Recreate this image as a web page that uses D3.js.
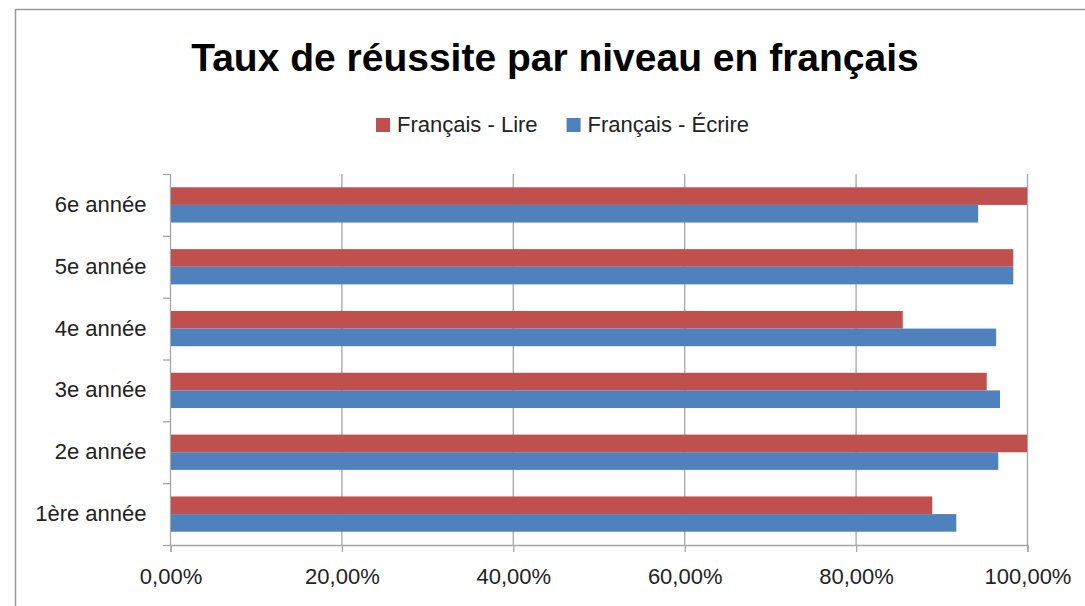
<!DOCTYPE html>
<html>
<head>
<meta charset="utf-8">
<script src="https://cdn.jsdelivr.net/npm/d3@7"></script>
<style>
  body { margin: 0; background: #fff; }
  svg { display: block; font-family: "Liberation Sans", Arial, sans-serif; }
</style>
</head>
<body>
<svg id="chart" width="1085" height="606"></svg>
<script>
// Data
const categories = ['1ère année', '2e année', '3e année', '4e année', '5e année', '6e année'];
const seriesNames = ['Français - Lire', 'Français - Écrire'];
const lireValues = [88.95, 100, 95.3, 85.5, 98.4, 100];
const ecrireValues = [91.75, 96.65, 96.85, 96.4, 98.4, 94.3];
const xTicks = [0, 20, 40, 60, 80, 100];
const colors = ['#C0504D', '#4F81BD'];

const svg = d3.select('#chart');

// Layout
const plot = { left: 170, right: 1027, top: 174, bottom: 545 };
const gridColor = '#a6a6a6';

// Chart area border
svg.append('rect')
  .attr('x', 15.5)
  .attr('y', 9.5)
  .attr('width', 1100)
  .attr('height', 620)
  .attr('fill', '#fff')
  .attr('stroke', '#9a9a9a')
  .attr('stroke-width', 1.5);

// Title
svg.append('text')
  .attr('x', 555)
  .attr('y', 71)
  .attr('text-anchor', 'middle')
  .style('font-size', '39px')
  .style('font-weight', 'bold')
  .attr('fill', '#000')
  .text('Taux de réussite par niveau en français');

// Scales
const x = d3.scaleLinear()
  .domain([0, 100])
  .range([plot.left, plot.right]);

const p = 0.43;
const y0 = d3.scaleBand()
  .domain(categories.slice().reverse())
  .range([plot.top, plot.bottom])
  .paddingInner(p)
  .paddingOuter(p / 2);

const y1 = d3.scaleBand()
  .domain(seriesNames)
  .range([0, y0.bandwidth()]);

// Vertical grid lines
svg.append('g')
  .selectAll('line')
  .data(xTicks.slice(1))
  .join('line')
  .attr('x1', d => x(d) + 0.5)
  .attr('x2', d => x(d) + 0.5)
  .attr('y1', plot.top)
  .attr('y2', plot.bottom)
  .attr('stroke', gridColor)
  .attr('stroke-width', 1.3);

// X axis
const xAxis = d3.axisBottom(x)
  .tickValues(xTicks)
  .tickSize(7)
  .tickPadding(16)
  .tickFormat(d => d3.format('.2f')(d).replace('.', ',') + '%');

const xg = svg.append('g')
  .attr('transform', `translate(0.5,${plot.bottom})`)
  .call(xAxis);
xg.select('.domain').attr('stroke', gridColor).attr('stroke-width', 1.3);
xg.selectAll('.tick line').attr('stroke', gridColor).attr('stroke-width', 1.3);
xg.selectAll('.tick text')
  .style('font-size', '22px')
  .attr('fill', '#222');

// Y axis
const yAxis = d3.axisLeft(y0)
  .tickSize(0)
  .tickPadding(24);

const yg = svg.append('g')
  .attr('transform', `translate(${plot.left + 0.5},0)`)
  .call(yAxis);
yg.select('.domain').remove();
yg.selectAll('.tick text')
  .style('font-size', '22px')
  .attr('fill', '#222');

// Y axis line and category boundary ticks
const boundaries = d3.range(categories.length + 1).map(i => plot.top + i * y0.step());
svg.append('line')
  .attr('x1', plot.left + 0.5)
  .attr('x2', plot.left + 0.5)
  .attr('y1', plot.top)
  .attr('y2', plot.bottom)
  .attr('stroke', gridColor)
  .attr('stroke-width', 1.3);
svg.append('g')
  .selectAll('line')
  .data(boundaries)
  .join('line')
  .attr('x1', plot.left - 7)
  .attr('x2', plot.left)
  .attr('y1', d => d + 0.5)
  .attr('y2', d => d + 0.5)
  .attr('stroke', gridColor)
  .attr('stroke-width', 1.3);

// Bars
const rows = categories.map((c, i) => ({
  category: c,
  values: [
    { series: seriesNames[0], value: lireValues[i], color: colors[0] },
    { series: seriesNames[1], value: ecrireValues[i], color: colors[1] }
  ]
}));

svg.append('g')
  .selectAll('g')
  .data(rows)
  .join('g')
  .attr('transform', d => `translate(0,${y0(d.category)})`)
  .selectAll('rect')
  .data(d => d.values)
  .join('rect')
  .attr('x', x(0) + 1)
  .attr('y', d => y1(d.series))
  .attr('width', d => x(d.value) - x(0) - 1)
  .attr('height', y1.bandwidth())
  .attr('fill', d => d.color);

// Legend
const legend = svg.append('g');
let lx = 376;
seriesNames.forEach((name, i) => {
  legend.append('rect')
    .attr('x', lx)
    .attr('y', 118)
    .attr('width', 14)
    .attr('height', 14)
    .attr('fill', colors[i]);
  const t = legend.append('text')
    .attr('x', lx + 21)
    .attr('y', 132)
    .style('font-size', '22px')
    .attr('fill', '#222')
    .text(name);
  lx += 21 + t.node().getComputedTextLength() + 29;
});
</script>
</body>
</html>
